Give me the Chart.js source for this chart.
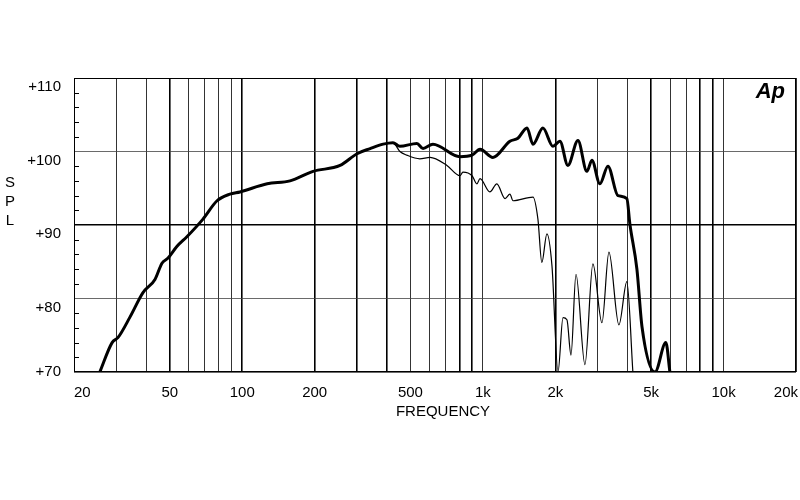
<!DOCTYPE html>
<html><head><meta charset="utf-8">
<script src="https://cdn.jsdelivr.net/npm/chart.js@4"></script>
<style>body{margin:0;background:#fff}#w{width:800px;height:500px}</style>
</head><body><div id="w"><canvas id="c"></canvas></div>
<script>
const onAxisFreq=[25.6,28.8,30.5,34.2,38.7,43.4,46.4,49.2,53.6,58.9,68.7,78.6,88.9,97.9,127,158,197,255,300,340,385,423,452,532,564,620,803,902,973,1101,1295,1398,1525,1615,1776,1955,2090,2255,2483,2705,2838,3063,3308,3640,3965,4082,4365,4581,5190,5757,5985];
const onAxisSPL=[70,74,74.7,77.5,80.8,82.6,84.8,85.5,87.1,88.4,90.8,93.3,94.2,94.5,95.6,96,97.3,98.1,99.7,100.4,101,101.2,100.7,101.1,100.4,101,99.3,99.5,100.3,99.2,101.4,101.8,103.2,101,103.2,100.7,101.4,98.1,101.5,97.3,98.8,95.6,98,94,93.6,90.1,84,76.2,70,74,70];
const offAxisFreq=[25.6,28.8,30.5,34.2,38.7,43.4,46.4,49.2,53.6,58.9,68.7,78.6,88.9,97.9,127,158,197,255,300,340,385,423,452,483,547,603,709,803,826,902,944,973,1069,1143,1236,1295,1334,1615,1693,1758,1845,1937,2052,2152,2235,2323,2437,2655,2865,3124,3340,3675,3965,4200];
const offAxisSPL=[70,74,74.7,77.5,80.8,82.6,84.8,85.5,87.1,88.4,90.8,93.3,94.2,94.5,95.6,96,97.3,98.1,99.7,100.4,101,101.2,100,99.5,99,99.2,98.1,96.7,97.2,96.7,95.6,96.3,94.5,95.6,93.6,94.2,93.3,93.8,90.8,84.9,88.8,84.4,70,77.4,77.1,72.3,83.3,71,84.7,76.7,86.3,76.4,82.3,70];
const xTickValues=[20,50,100,200,500,1000,2000,5000,10000,20000];
const xTickLabels=['20','50','100','200','500','1k','2k','5k','10k','20k'];
const yTickValues=[70,80,90,100,110];

const pts=(f,s)=>f.map((v,i)=>({x:v,y:s[i]}));
const thickX=[50,100,200,300,400,800,900,2000,5000,8000,9000];
const F='"Liberation Sans",Arial';
const overlay={id:'ov',afterDraw(ch){
  const c=ch.ctx,y=ch.scales.y,x=ch.scales.x,a=ch.chartArea;
  c.save();c.fillStyle='#000';c.font='15px '+F;c.textAlign='right';c.textBaseline='middle';
  yTickValues.forEach(v=>c.fillText('+'+v,a.left-13,Math.min(y.getPixelForValue(v)+9,a.bottom)));
  c.strokeStyle='#000';c.lineWidth=1;
  for(let v=70;v<=110;v+=2){const p=Math.round(y.getPixelForValue(v))+.5;c.beginPath();c.moveTo(a.left,p);c.lineTo(a.left+(v%10===0?0:5),p);c.stroke();}
  c.textBaseline='top';
  xTickValues.forEach((v,i)=>{const px=x.getPixelForValue(v);c.textAlign=i===0?'left':(i===xTickValues.length-1?'right':'center');c.fillText(xTickLabels[i],px+(i===xTickValues.length-1?2:0),a.bottom+13);});
  c.textAlign='center';c.fillText('FREQUENCY',443,a.bottom+32);
  ['S','P','L'].forEach((t,i)=>c.fillText(t,10,175+i*19));
  c.font='italic bold 22px '+F;c.textAlign='right';c.textBaseline='middle';c.fillText('Ap',785,92);
  c.strokeRect(a.left+.5,a.top+.5,a.right-a.left-1,a.bottom-a.top-1);
  c.restore();}};
new Chart(document.getElementById('c'),{type:'scatter',
 data:{datasets:[
  {data:pts(onAxisFreq,onAxisSPL),showLine:true,borderColor:'#000',borderWidth:3,pointRadius:0,cubicInterpolationMode:'monotone'},
  {data:pts(offAxisFreq,offAxisSPL),showLine:true,borderColor:'#000',borderWidth:1.2,pointRadius:0,cubicInterpolationMode:'monotone'}]},
 options:{responsive:true,maintainAspectRatio:false,animation:false,
  layout:{padding:{top:78,right:4,bottom:128,left:0}},
  plugins:{legend:{display:false},tooltip:{enabled:false}},
  scales:{
   x:{type:'logarithmic',min:20,max:20000,border:{display:false},
     afterFit(s){s.height=0;},
     afterBuildTicks(s){const t=[];for(let d=10;d<=10000;d*=10)for(let k=1;k<=9;k++){const v=d*k;if(v>=20&&v<=20000)t.push({value:v});}s.ticks=t;},
     grid:{color:'#000',lineWidth:c=>thickX.includes(c.tick&&c.tick.value)?1.6:0.8,drawTicks:false},
     ticks:{display:false}},
   y:{min:70,max:110,border:{display:false},afterFit(s){s.width=74;},
     afterBuildTicks(s){s.ticks=yTickValues.map(v=>({value:v}));},
     grid:{color:c=>c.tick&&c.tick.value===90?'#000':'#444',lineWidth:c=>c.tick&&c.tick.value===90?1.6:0.8,drawTicks:false},
     ticks:{display:false}}}},
 plugins:[overlay]});
</script></body></html>
